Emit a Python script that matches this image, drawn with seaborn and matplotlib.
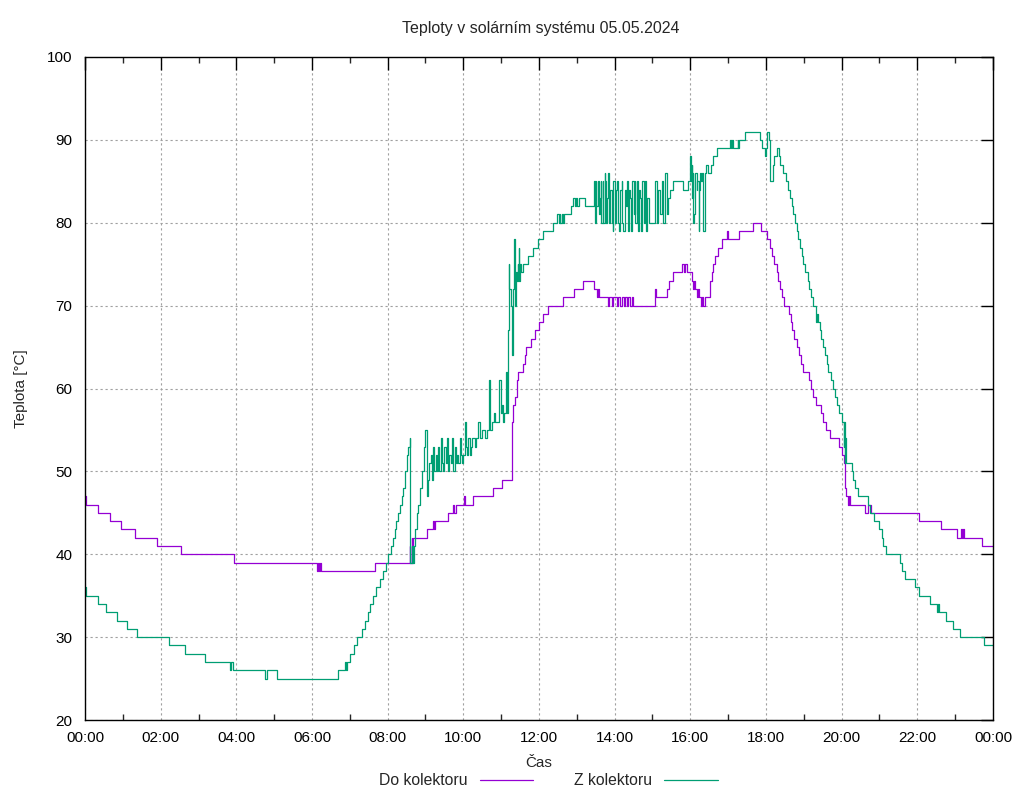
import numpy as np
import pandas as pd
import matplotlib
matplotlib.use("Agg")
import matplotlib.pyplot as plt
import seaborn as sns
from matplotlib.ticker import MultipleLocator, FuncFormatter

# ---- data (time in minutes since midnight, temperature in °C) ----
do_min = [0, 2, 20, 40, 57, 79, 114, 152, 236, 368, 370, 371, 372, 374, 460,
          515, 516, 518, 519, 520, 542, 552, 553, 555, 576, 584, 585, 588, 601, 603,
          615, 647, 661, 677, 679, 682, 685, 686, 694, 698, 700, 707, 714, 720, 726,
          734, 758, 776, 790, 807, 812, 814, 815, 829, 831, 836, 837, 844, 845, 849,
          852, 855, 856, 860, 861, 864, 868, 869, 904, 906, 923, 926, 933, 947, 950,
          952, 955, 963, 964, 966, 967, 971, 972, 974, 977, 979, 980, 984, 991, 994,
          996, 999, 1004, 1010, 1018, 1020, 1037, 1059, 1072, 1082, 1086, 1090, 1093, 1097, 1099,
          1102, 1105, 1109, 1117, 1120, 1122, 1125, 1129, 1132, 1135, 1139, 1148, 1152, 1155, 1159,
          1167, 1171, 1175, 1182, 1195, 1201, 1204, 1205, 1207, 1210, 1212, 1213, 1237, 1242, 1247,
          1323, 1357, 1383, 1389, 1391, 1393, 1394, 1422, 1440]
do_val = [47, 46, 45, 44, 43, 42, 41, 40, 39, 38, 39, 38, 39, 38, 39,
          41, 39, 42, 39, 42, 43, 44, 43, 44, 45, 46, 45, 46, 47, 46,
          47, 48, 49, 56, 58, 59, 61, 62, 63, 64, 65, 66, 67, 68, 69,
          70, 71, 72, 73, 72, 71, 72, 71, 70, 71, 70, 71, 70, 71, 70,
          71, 70, 71, 70, 71, 70, 71, 70, 72, 71, 72, 73, 74, 75, 74,
          75, 74, 73, 72, 73, 72, 71, 72, 71, 70, 71, 70, 71, 73, 74,
          75, 76, 77, 78, 79, 78, 79, 80, 79, 78, 77, 76, 75, 74, 73,
          72, 71, 70, 69, 68, 67, 66, 65, 64, 63, 62, 61, 60, 59, 58,
          57, 56, 55, 54, 53, 52, 51, 48, 47, 46, 47, 46, 45, 46, 45,
          44, 43, 42, 43, 42, 43, 42, 41, 41]

z_min = [0, 2, 21, 33, 50, 66, 83, 133, 159, 190, 230, 232, 234, 286, 288,
         305, 401, 412, 414, 416, 420, 426, 431, 440, 444, 449, 452, 456, 462, 468,
         472, 477, 481, 485, 489, 492, 494, 497, 500, 502, 505, 508, 510, 513, 515,
         516, 518, 520, 522, 524, 526, 528, 531, 535, 538, 540, 542, 544, 546, 548,
         550, 552, 554, 556, 558, 560, 562, 564, 566, 568, 570, 572, 574, 576, 578,
         580, 582, 584, 586, 588, 590, 592, 594, 596, 598, 600, 602, 604, 606, 608,
         610, 612, 614, 618, 620, 624, 626, 630, 634, 638, 641, 643, 645, 648, 650,
         655, 657, 659, 661, 663, 665, 667, 669, 671, 672, 673, 675, 677, 678, 679,
         680, 682, 684, 685, 686, 687, 688, 689, 690, 692, 694, 698, 703, 711, 718,
         727, 742, 749, 751, 753, 754, 756, 758, 760, 771, 774, 777, 779, 781, 783,
         793, 807, 809, 810, 811, 813, 815, 816, 818, 819, 821, 822, 824, 825, 826,
         828, 830, 831, 833, 835, 837, 838, 840, 842, 843, 845, 847, 849, 851, 852,
         854, 856, 858, 859, 861, 863, 864, 866, 868, 870, 872, 873, 875, 877, 879,
         880, 882, 884, 886, 888, 890, 892, 894, 897, 901, 904, 907, 909, 912, 915,
         917, 920, 923, 925, 928, 933, 949, 957, 959, 961, 962, 963, 964, 965, 966,
         968, 970, 971, 973, 974, 976, 977, 979, 980, 983, 985, 988, 993, 996, 998,
         1002, 1023, 1024, 1026, 1027, 1035, 1036, 1037, 1046, 1071, 1073, 1078, 1080, 1082, 1084,
         1087, 1091, 1093, 1097, 1100, 1102, 1107, 1112, 1115, 1118, 1121, 1123, 1126, 1129, 1131,
         1134, 1137, 1139, 1142, 1146, 1148, 1151, 1155, 1159, 1160, 1161, 1163, 1166, 1168, 1171,
         1174, 1176, 1179, 1183, 1186, 1190, 1192, 1195, 1200, 1203, 1204, 1205, 1206, 1207, 1216,
         1218, 1221, 1226, 1242, 1245, 1251, 1260, 1264, 1266, 1271, 1293, 1295, 1300, 1316, 1323,
         1340, 1351, 1353, 1355, 1366, 1377, 1388, 1425, 1440]
z_val = [36, 35, 34, 33, 32, 31, 30, 29, 28, 27, 26, 27, 26, 25, 26,
         25, 26, 27, 26, 27, 28, 29, 30, 31, 32, 33, 34, 35, 36, 37,
         38, 39, 40, 41, 42, 43, 44, 45, 46, 47, 48, 50, 52, 53, 54,
         39, 41, 39, 41, 43, 45, 46, 48, 50, 53, 55, 47, 49, 51, 52,
         49, 53, 50, 52, 50, 53, 50, 54, 51, 50, 53, 51, 54, 50, 52,
         51, 54, 50, 53, 51, 52, 51, 54, 52, 51, 52, 56, 53, 52, 54,
         52, 53, 54, 53, 54, 56, 54, 55, 54, 55, 61, 55, 56, 57, 56,
         56, 61, 57, 58, 56, 57, 62, 57, 67, 75, 72, 70, 64, 70, 72,
         78, 70, 74, 73, 75, 74, 77, 73, 75, 74, 75, 75, 76, 77, 78,
         79, 80, 81, 80, 81, 80, 81, 80, 81, 82, 83, 82, 83, 82, 83,
         82, 85, 80, 85, 82, 85, 81, 83, 85, 80, 85, 80, 86, 85, 80,
         83, 86, 80, 84, 80, 79, 85, 80, 84, 85, 80, 79, 84, 85, 80,
         79, 84, 82, 85, 79, 84, 83, 79, 85, 81, 85, 80, 85, 79, 84,
         83, 79, 85, 80, 85, 79, 83, 80, 80, 80, 85, 80, 84, 81, 85,
         80, 86, 81, 83, 84, 85, 84, 85, 88, 85, 87, 83, 86, 80, 81,
         86, 84, 85, 79, 84, 86, 85, 86, 79, 86, 87, 86, 87, 88, 88,
         89, 90, 89, 90, 89, 90, 89, 90, 91, 90, 89, 88, 89, 91, 90,
         85, 87, 88, 89, 88, 87, 86, 85, 84, 83, 82, 81, 80, 79, 78,
         77, 76, 75, 74, 73, 72, 71, 70, 69, 68, 69, 68, 67, 66, 65,
         64, 63, 62, 61, 60, 59, 58, 57, 56, 53, 56, 51, 54, 51, 50,
         49, 48, 47, 46, 45, 44, 43, 42, 41, 40, 39, 38, 37, 36, 35,
         34, 33, 34, 33, 32, 31, 30, 29, 29]

series_names = ["Do kolektoru", "Z kolektoru"]
series_colors = ["#9400d3", "#009e73"]
title = "Teploty v solárním systému 05.05.2024"
x_label = "Čas"
y_label = "Teplota [°C]"

# ---- plotting ----
sns.set_theme(style="white")
plt.rcParams["font.family"] = ["Liberation Sans", "DejaVu Sans"]

df = pd.concat([
    pd.DataFrame({"t": np.array(do_min) / 60.0, "v": do_val, "s": series_names[0]}),
    pd.DataFrame({"t": np.array(z_min) / 60.0, "v": z_val, "s": series_names[1]}),
], ignore_index=True)

fig = plt.figure(figsize=(10.24, 8), dpi=100)
ax = fig.add_axes([85 / 1024, 80 / 800, 908 / 1024, 663 / 800])

sns.lineplot(data=df, x="t", y="v", hue="s", hue_order=series_names,
             palette=dict(zip(series_names, series_colors)),
             estimator=None, sort=False, drawstyle="steps-post",
             linewidth=0.9, ax=ax)

ax.set_xlim(0, 24)
ax.set_ylim(20, 100)
ax.xaxis.set_major_locator(MultipleLocator(2))
ax.xaxis.set_minor_locator(MultipleLocator(1))
ax.yaxis.set_major_locator(MultipleLocator(10))
ax.xaxis.set_major_formatter(FuncFormatter(lambda v, p: f"{int(round(v)) % 24:02d}:00"))
ax.grid(True, which="major", color="#a0a0a0", linestyle=(0, (2, 2.5)), linewidth=0.8)
ax.set_axisbelow(True)
for sp in ax.spines.values():
    sp.set_color("black")
    sp.set_linewidth(1.0)
ax.tick_params(which="major", direction="in", length=9, width=1, top=True, right=True,
               labelsize=11, colors="black", pad=8)
ax.tick_params(axis="y", which="major", pad=9)
ax.tick_params(which="minor", direction="in", length=4.5, width=1, top=True, bottom=True)

ax.set_xlabel(x_label, fontsize=11, labelpad=8)
ax.set_ylabel(y_label, fontsize=11, labelpad=14)
fig.text(0.5 * (85 + 993) / 1024 + 0.002, 1 - 28 / 800, title, ha="center", va="center", fontsize=11.5)

handles, labels = ax.get_legend_handles_labels()
ax.legend(handles, labels, loc="center", bbox_to_anchor=(0.51, -0.092), ncol=2,
          frameon=False, markerfirst=False, handlelength=3.4, columnspacing=2.6,
          handletextpad=0.8, fontsize=11.3)

fig.savefig("out.png", dpi=100)
